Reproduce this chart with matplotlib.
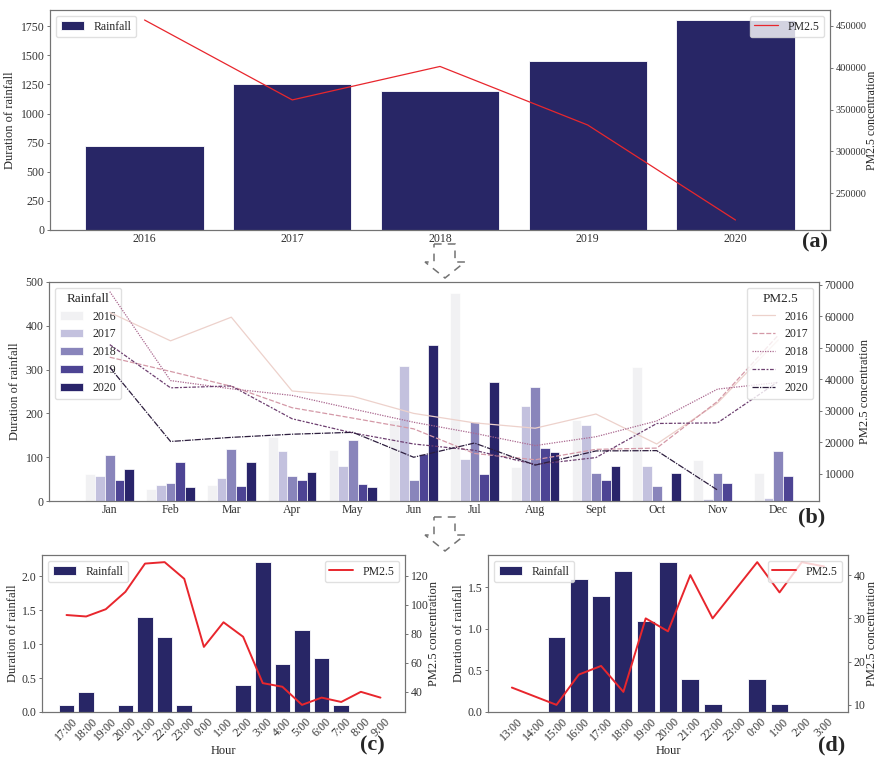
import numpy as np
import matplotlib.pyplot as plt
import seaborn as sns
from matplotlib.patches import Polygon

sns.set_style("ticks")
plt.rcParams['font.family'] = ['Liberation Serif', 'DejaVu Serif']

# (a) yearly totals
years = ['2016', '2017', '2018', '2019', '2020']
annual_rain = [720, 1250, 1195, 1450, 1800]
annual_pm = [457000, 361500, 401500, 331500, 218000]

# (b) monthly values per year
months = ['Jan', 'Feb', 'Mar', 'Apr', 'May', 'Jun', 'Jul', 'Aug', 'Sept', 'Oct', 'Nov', 'Dec']
rain_2016 = [61, 28, 37, 146, 117, 185, 476, 78, 185, 305, 93, 63]
rain_2017 = [56, 36, 52, 115, 80, 308, 96, 216, 173, 79, 5, 7]
rain_2018 = [104, 42, 118, 58, 140, 47, 180, 260, 63, 35, 63, 115]
rain_2019 = [49, 88, 35, 49, 38, 107, 61, 120, 49, 0, 40, 56]
rain_2020 = [73, 33, 90, 66, 31, 357, 271, 112, 80, 63, 0, 0]
pm_2016 = [61200, 52200, 59700, 36300, 34600, 29200, 26200, 24500, 29000, 19500, 32500, 52500]
pm_2017 = [47000, 42500, 37800, 31000, 27700, 24300, 16500, 14500, 17800, 18200, 33000, 54000]
pm_2018 = [67800, 39600, 37000, 34900, 30600, 26400, 22900, 19000, 21800, 26800, 36900, 39000]
pm_2019 = [51000, 37300, 37900, 27500, 23000, 19500, 17500, 13000, 15200, 26000, 26200, 39300]
pm_2020 = [43800, 20300, 21600, 22600, 23200, 15300, 19800, 12800, 17300, 17400, 4900, np.nan]

# (c) hourly event 1
hours_c = ['17:00', '18:00', '19:00', '20:00', '21:00', '22:00', '23:00', '0:00', '1:00',
           '2:00', '3:00', '4:00', '5:00', '6:00', '7:00', '8:00', '9:00']
rain_c = [0.1, 0.3, 0, 0.1, 1.4, 1.1, 0.1, 0, 0, 0.4, 2.2, 0.7, 1.2, 0.8, 0.1, 0, 0]
pm_c = [93, 92, 97, 109, 128.5, 129.5, 118, 71, 88, 78, 46, 43.5, 31, 36, 33, 40, 36]

# (d) hourly event 2
hours_d = ['13:00', '14:00', '15:00', '16:00', '17:00', '18:00', '19:00', '20:00', '21:00',
           '22:00', '23:00', '0:00', '1:00', '2:00', '3:00']
rain_d = [0, 0, 0.9, 1.6, 1.4, 1.7, 1.1, 1.8, 0.4, 0.1, 0, 0.4, 0.1, 0, 0]
pm_d = [14, 12, 10, 17, 19, 13, 30, 27, 40, 30, 36.5, 43, 36, 43, 42]

navy = '#282666'
red = '#e8262d'
bar_cols = ['#f1f1f3', '#c3c1de', '#8985bb', '#4d4494', '#29246a']
line_cols = sns.cubehelix_palette(5)
dash_list = [None, (4, 1.5), (1, 1), (3, 1.25, 1.5, 1.25), (5, 1, 1, 1)]

W, H = 878, 763
fig = plt.figure(figsize=(W / 100, H / 100), dpi=100)


def box(l, t, r, b):
    return [l / W, 1 - b / H, (r - l) / W, (b - t) / H]


def style(ax, ysize=8.5):
    for s in ax.spines.values():
        s.set_color('0.45')
        s.set_linewidth(0.8)
    ax.tick_params(axis='y', labelsize=ysize, length=2.5, width=0.7, pad=1.5,
                   color='0.45', labelcolor='0.2')
    ax.tick_params(axis='x', labelsize=8.5, length=0, pad=2.5, labelcolor='0.2')


def leg(ax, **kw):
    l = ax.legend(fontsize=8.5, framealpha=0.8, edgecolor='0.85', **kw)
    return l


# ---- (a)
ax = fig.add_axes(box(50, 10, 830, 230))
x = np.arange(len(years))
ax.bar(x, annual_rain, width=0.8, color=navy, edgecolor='white', linewidth=0.6, label='Rainfall')
ax.set_xticks(x, years)
ax.set_xlim(-0.64, 4.64)
ax.set_ylabel('Duration of rainfall', fontsize=9, labelpad=3)
style(ax)
leg(ax, loc='upper left')
ax2 = ax.twinx()
ax2.plot(x, annual_pm, color=red, lw=0.9, label='PM2.5')
ax2.ticklabel_format(axis='y', style='plain', useOffset=False)
ax2.set_ylabel('PM2.5 concentration', fontsize=8.5)
style(ax2, ysize=7.5)
ax2.yaxis.set_label_coords((866 - 50) / 780, 0.5)
leg(ax2, loc='upper right')

# ---- (b)
ax = fig.add_axes(box(49, 282, 819, 501))
x = np.arange(len(months))
rains = [rain_2016, rain_2017, rain_2018, rain_2019, rain_2020]
pms = [pm_2016, pm_2017, pm_2018, pm_2019, pm_2020]
for i, yr in enumerate(years):
    ax.bar(x + (i - 2) * 0.16, rains[i], width=0.16, color=bar_cols[i],
           edgecolor='white', linewidth=0.5, label=yr)
ax.set_xticks(x, months)
ax.set_xlim(-1.0, 11.67)
ax.set_ylim(0, 500)
ax.set_ylabel('Duration of rainfall', fontsize=9, labelpad=3)
style(ax)
lg = leg(ax, loc='upper left', title='Rainfall', title_fontsize=9.5)
ax2 = ax.twinx()
for i, yr in enumerate(years):
    ln, = ax2.plot(x, pms[i], color=line_cols[i], lw=0.9, label=yr)
    if dash_list[i] is not None:
        ln.set_dashes(dash_list[i])
ax2.set_ylim(1430, 70850)
ax2.set_ylabel('PM2.5 concentration', fontsize=9, labelpad=3)
style(ax2)
leg(ax2, loc='upper right', title='PM2.5', title_fontsize=9.5)

# ---- (c) and (d)
for (l, r, xl, hrs, rn, pm) in [(42, 405, (-1.25, 17.25), hours_c, rain_c, pm_c),
                               (488, 848, (-1.07, 15.07), hours_d, rain_d, pm_d)]:
    ax = fig.add_axes(box(l, 555, r, 712))
    x = np.arange(len(hrs))
    ax.bar(x, rn, width=0.8, color=navy, edgecolor='white', linewidth=0.6, label='Rainfall')
    ax.set_xticks(x, hrs, rotation=45)
    ax.set_xlim(*xl)
    ax.set_xlabel('Hour', fontsize=9, labelpad=1)
    ax.set_ylabel('Duration of rainfall', fontsize=9, labelpad=2)
    style(ax)
    leg(ax, loc='upper left')
    ax2 = ax.twinx()
    ax2.plot(x, pm, color=red, lw=1.4, label='PM2.5')
    ax2.set_ylabel('PM2.5 concentration', fontsize=9)
    style(ax2)
    ax2.yaxis.set_label_coords((min(l + 386, 866) - l) / (r - l), 0.5)
    leg(ax2, loc='upper right')

# panel tags
for tag, px, py in [('(a)', 815, 242), ('(b)', 812, 517), ('(c)', 372, 745), ('(d)', 832, 745)]:
    fig.text(px / W, 1 - py / H, tag, fontsize=16, fontweight='bold', ha='center', va='center')

# dashed arrows between panels
for dy in [0, 273]:
    pts = [(434, 244), (455, 244), (455, 262), (465, 262), (445, 278), (425, 262), (434, 262)]
    pts = [(px / W, 1 - (py + dy) / H) for px, py in pts]
    fig.add_artist(Polygon(pts, closed=True, fill=False, edgecolor='0.45', lw=1.1,
                           linestyle=(0, (5, 4)), transform=fig.transFigure))

fig.savefig('out.png', dpi=100)
